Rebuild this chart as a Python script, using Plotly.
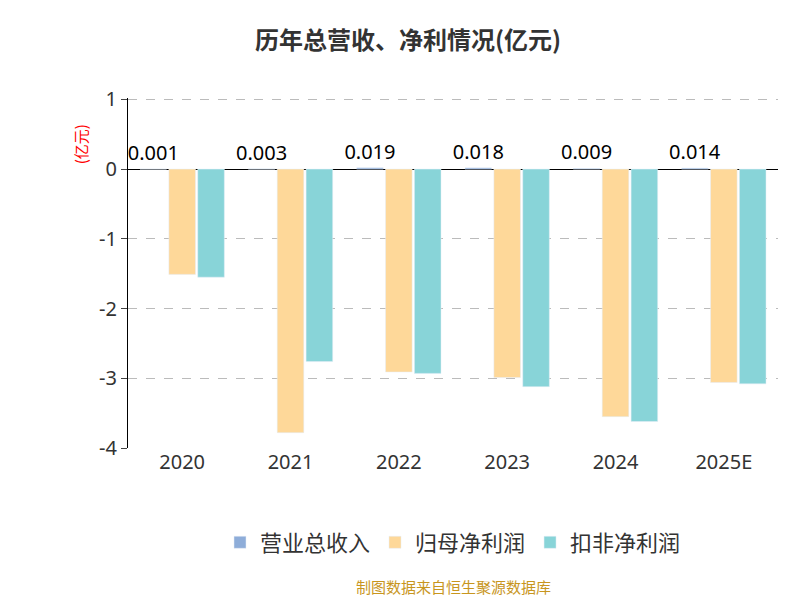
import plotly.graph_objects as go

years = ["2020", "2021", "2022", "2023", "2024", "2025E"]
revenue = [0.001, 0.003, 0.019, 0.018, 0.009, 0.014]
net_profit = [-1.51, -3.78, -2.91, -2.99, -3.55, -3.06]
deducted_profit = [-1.55, -2.76, -2.93, -3.12, -3.62, -3.08]

fig = go.Figure()
fig.add_trace(go.Bar(x=years, y=revenue, name="营业总收入", marker_color="#8eadd9",
                     text=[f"{v:.3f}" for v in revenue], textposition="outside",
                     constraintext="none",
                     textfont=dict(size=20, color="#000", family="Noto Sans"), cliponaxis=False))
fig.add_trace(go.Bar(x=years, y=net_profit, name="归母净利润", marker_color="#fed899"))
fig.add_trace(go.Bar(x=years, y=deducted_profit, name="扣非净利润", marker_color="#88d4d8"))

fig.update_layout(
    width=800, height=600,
    paper_bgcolor="white", plot_bgcolor="white",
    font=dict(family="Noto Sans CJK SC", color="#333"),
    title=dict(text="<b>历年总营收、净利情况(亿元)</b>", x=0.5, y=0.96,
               font=dict(size=24, color="#333")),
    margin=dict(l=120, r=30, t=90, b=160),
    barmode="group", bargap=0.2, bargroupgap=0.08,
    legend=dict(orientation="h", x=0.5, xanchor="center", y=-0.27, yanchor="middle",
                font=dict(size=22, color="#333")),
    showlegend=True,
)
fig.update_xaxes(tickfont=dict(size=20, color="#333", family="Noto Sans"), showline=False, ticks="")
fig.update_yaxes(range=[-4, 1.02], tickvals=[-4, -3, -2, -1, 0, 1],
                 ticktext=["-4", "-3", "-2", "-1", "0", "1"],
                 tickfont=dict(size=20, color="#333", family="Noto Sans"),
                 showgrid=True, gridcolor="#bbb", griddash="dash",
                 showline=True, linecolor="#000", ticks="outside", ticklen=6,
                 zeroline=True, zerolinecolor="#000", zerolinewidth=1)
fig.add_annotation(text="(亿元)", x=-0.092, y=0.93, xref="paper", yref="paper",
                   textangle=-90, showarrow=False, font=dict(size=15, color="red"))
fig.add_annotation(text="制图数据来自恒生聚源数据库", x=0.5, y=-0.43, xref="paper", yref="paper",
                   showarrow=False, font=dict(size=15, color="#c8961e"))
fig.write_html("out.html")
